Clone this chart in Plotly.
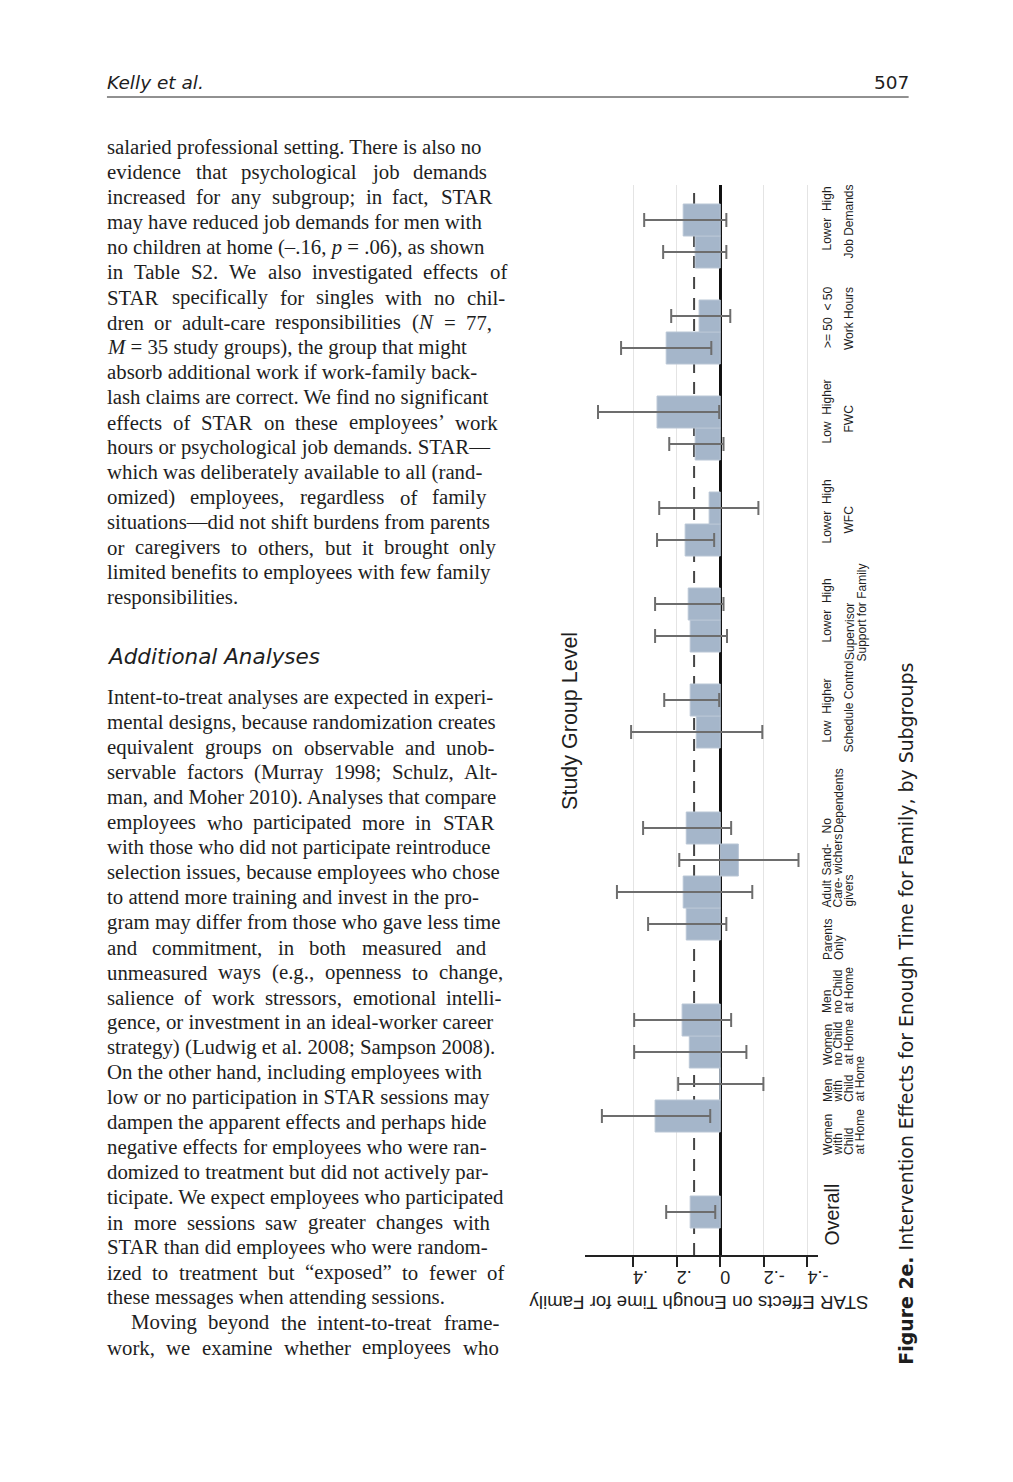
import re
import plotly.graph_objects as go

OFF = 8           # default body margin of the html page
W, H = 960, 1420  # figure kept smaller than the window so no scrollbars appear
XS, XB = 0.9875, 1.35  # measured horizontal mapping of the screenshot

# ---------------- chart data ----------------
categories = [
    "Overall",
    "Women with Child at Home", "Men with Child at Home",
    "Women no Child at Home", "Men no Child at Home",
    "Parents Only", "Adult Caregivers", "Sandwichers", "No Dependents",
    "Schedule Control Low", "Schedule Control Higher",
    "Supervisor Support Lower", "Supervisor Support High",
    "WFC Lower", "WFC High",
    "FWC Low", "FWC Higher",
    "Work Hours >= 50", "Work Hours < 50",
    "Job Demands Lower", "Job Demands High",
]
effects = [0.138, 0.299, 0.002, 0.142, 0.175, 0.156, 0.170, -0.083, 0.156,
           0.110, 0.138, 0.138, 0.147, 0.161, 0.051, 0.115, 0.290,
           0.248, 0.097, 0.115, 0.170]
ci_low = [0.023, 0.046, -0.198, -0.120, -0.050, -0.028, -0.147, -0.359, -0.050,
          -0.193, 0.005, -0.031, -0.015, 0.028, -0.175, -0.015, 0.005,
          0.041, -0.046, -0.028, -0.028]
ci_high = [0.248, 0.543, 0.193, 0.395, 0.395, 0.331, 0.474, 0.188, 0.354,
           0.409, 0.257, 0.299, 0.299, 0.290, 0.280, 0.234, 0.561,
           0.455, 0.225, 0.262, 0.349]
group_sizes = [1, 4, 4, 2, 2, 2, 2, 2, 2]
overall_reference = 0.12
value_ticks = [-0.4, -0.2, 0, 0.2, 0.4]
value_tick_labels = ["-.4", "-.2", "0", ".2", ".4"]

family_labels = [
    ["Women", "with", "Child", "at Home"],
    ["Men", "with", "Child", "at Home"],
    ["Women", "no Child", "at Home"],
    ["Men", "no Child", "at Home"],
    ["Parents", "Only"],
    ["Adult", "Care-", "givers"],
    ["Sand-", "wichers"],
    ["No", "Dependents"],
]
work_level_labels = ["Low  Higher", "Lower  High", "Lower  High", "Low  Higher", ">= 50  < 50", "Lower  High"]
work_group_labels = [["Schedule Control"], ["Supervisor", "Support for Family"], ["WFC"], ["FWC"],
                     ["Work Hours"], ["Job Demands"]]

# ---------------- page text ----------------
para1 = [
    "salaried professional setting. There is also no",
    "evidence that psychological job demands",
    "increased for any subgroup; in fact, STAR",
    "may have reduced job demands for men with",
    "no children at home (–.16, <i>p</i> = .06), as shown",
    "in Table S2. We also investigated effects of",
    "STAR specifically for singles with no chil-",
    "dren or adult-care responsibilities (<i>N</i> = 77,",
    "<i>M</i> = 35 study groups), the group that might",
    "absorb additional work if work-family back-",
    "lash claims are correct. We find no significant",
    "effects of STAR on these employees’ work",
    "hours or psychological job demands. STAR—",
    "which was deliberately available to all (rand-",
    "omized) employees, regardless of family",
    "situations—did not shift burdens from parents",
    "or caregivers to others, but it brought only",
    "limited benefits to employees with few family",
    "responsibilities.",
]
para2 = [
    "Intent-to-treat analyses are expected in experi-",
    "mental designs, because randomization creates",
    "equivalent groups on observable and unob-",
    "servable factors (Murray 1998; Schulz, Alt-",
    "man, and Moher 2010). Analyses that compare",
    "employees who participated more in STAR",
    "with those who did not participate reintroduce",
    "selection issues, because employees who chose",
    "to attend more training and invest in the pro-",
    "gram may differ from those who gave less time",
    "and commitment, in both measured and",
    "unmeasured ways (e.g., openness to change,",
    "salience of work stressors, emotional intelli-",
    "gence, or investment in an ideal-worker career",
    "strategy) (Ludwig et al. 2008; Sampson 2008).",
    "On the other hand, including employees with",
    "low or no participation in STAR sessions may",
    "dampen the apparent effects and perhaps hide",
    "negative effects for employees who were ran-",
    "domized to treatment but did not actively par-",
    "ticipate. We expect employees who participated",
    "in more sessions saw greater changes with",
    "STAR than did employees who were random-",
    "ized to treatment but “exposed” to fewer of",
    "these messages when attending sessions.",
    "Moving beyond the intent-to-treat frame-",
    "work, we examine whether employees who",
]

# ---------------- layout helpers ----------------
SERIF = "Liberation Serif, Times New Roman, serif"
SANS = "Liberation Sans, Arial, sans-serif"
DEJAVU = "DejaVu Sans, Verdana, sans-serif"
TEXT = "#1e1e1e"

def px(x):
    return ((x - XB) / XS - OFF) / W

def py(y):
    return 1 - (y - OFF) / H

annotations = []

def ann(text, x, y, size, family, xanchor="left", yanchor="middle", angle=0, color=TEXT):
    annotations.append(dict(text=text, x=px(x), y=py(y), xref="paper", yref="paper",
                            showarrow=False, xanchor=xanchor, yanchor=yanchor,
                            textangle=angle, borderpad=0, borderwidth=0,
                            font=dict(size=size, family=family, color=color)))

TW = {' ': 250, '!': 333, '(': 333, ')': 333, ',': 250, '-': 333, '.': 250, ':': 278, ';': 278,
      '=': 564, '>': 564, '<': 564, '0': 500, '1': 500, '2': 500, '3': 500, '4': 500, '5': 500,
      '6': 500, '7': 500, '8': 500, '9': 500, 'A': 722, 'B': 667, 'C': 667, 'D': 722, 'E': 611,
      'F': 556, 'G': 722, 'H': 722, 'I': 333, 'J': 389, 'K': 722, 'L': 611, 'M': 889, 'N': 722,
      'O': 722, 'P': 556, 'Q': 722, 'R': 667, 'S': 556, 'T': 611, 'U': 722, 'V': 722, 'W': 944,
      'X': 722, 'Y': 722, 'Z': 611, 'a': 444, 'b': 500, 'c': 444, 'd': 500, 'e': 444, 'f': 333,
      'g': 500, 'h': 500, 'i': 278, 'j': 278, 'k': 500, 'l': 278, 'm': 778, 'n': 500, 'o': 500,
      'p': 500, 'q': 500, 'r': 333, 's': 389, 't': 278, 'u': 500, 'v': 500, 'w': 722, 'x': 500,
      'y': 500, 'z': 444, '–': 500, '—': 1000, '’': 333, '“': 444, '”': 444}

def text_width(s, size):
    s = re.sub(r"<[^>]+>", "", s)
    return sum(TW.get(c, 500) for c in s) / 1000.0 * size

BODY_SIZE = 20.8
LEFT = 108
LINE_STEP = 25

def body_line(text, y, right=None, x0=LEFT):
    if right is None:
        ann(text, x0, y, BODY_SIZE, SERIF)
        return
    words = text.split(" ")
    widths = [text_width(w, BODY_SIZE) for w in words]
    gap = (right - x0 - sum(widths)) / (len(words) - 1)
    x = x0
    for i, (w, wd) in enumerate(zip(words, widths)):
        if i == len(words) - 1:
            ann(w, right, y, BODY_SIZE, SERIF, xanchor="right")
        else:
            ann(w, x, y, BODY_SIZE, SERIF)
        x += wd + gap

just1 = {1: 487, 2: 493, 5: 507, 6: 505, 7: 492, 11: 498, 14: 487, 16: 497}
just2 = {2: 495, 3: 498, 5: 495, 10: 487, 11: 503, 12: 502, 21: 491, 23: 504, 25: 499, 26: 499}

for i, t in enumerate(para1):
    body_line(t, 147 + LINE_STEP * i, just1.get(i))
for i, t in enumerate(para2):
    body_line(t, 697 + LINE_STEP * i, just2.get(i), x0=132 if i == 25 else LEFT)

ann("<i>Additional Analyses</i>", LEFT, 657, 21.5, DEJAVU)
ann("<i>Kelly et al.</i>", LEFT, 82, 18.5, DEJAVU)
ann("507", 908, 82, 18.5, DEJAVU, xanchor="right")
ann("<b>Figure 2e.</b> Intervention Effects for Enough Time for Family, by Subgroups",
    905, 1365, 18.9, DEJAVU, xanchor="center", yanchor="bottom", angle=-90)

# chart text
ann("Study Group Level", 570, 810, 21.5, SANS, xanchor="center", yanchor="bottom", angle=-90)
ann("STAR Effects on Enough Time for Family", 698, 1303, 18.7, SANS,
    xanchor="center", yanchor="middle", angle=180)
ann("Overall", 832, 1245, 19.5, SANS, xanchor="center", yanchor="bottom", angle=-90)

LAB = 12
line_x = [827, 838, 848, 859]
family_bottoms = [1155, 1102, 1065, 1013, 960, 907, 875, 833]
for lines, yb in zip(family_labels, family_bottoms):
    for j, t in enumerate(lines):
        ann(t, line_x[j], yb, LAB, SANS, xanchor="center", yanchor="bottom", angle=-90)

level_bottoms = [742, 642, 543, 443, 348, 250]
group_bottoms = [[753], [660, 662], [534], [433], [350], [259]]
group_x = [[848], [849, 861], [848], [848], [848], [848]]
for t, yb in zip(work_level_labels, level_bottoms):
    ann(t, 827, yb, LAB, SANS, xanchor="center", yanchor="bottom", angle=-90)
for lines, ybs, xs in zip(work_group_labels, group_bottoms, group_x):
    for t, yb, x in zip(lines, ybs, xs):
        ann(t, x, yb, LAB, SANS, xanchor="center", yanchor="bottom", angle=-90)

# ---------------- bar positions from group structure ----------------
group_gaps = [2, 2, 2, 1, 1, 1, 1, 1]
positions = []
slot = 0
for g, size in enumerate(group_sizes):
    for k in range(size):
        positions.append(slot)
        slot += 1
    if g < len(group_gaps):
        slot += group_gaps[g]

err_plus = [h - e for h, e in zip(ci_high, effects)]
err_minus = [e - l for e, l in zip(effects, ci_low)]

fig = go.Figure()
fig.add_trace(go.Bar(
    y=positions, x=effects, orientation="h", width=1.0,
    marker=dict(color="#a5b6ca", line=dict(color="#b9c6d5", width=1)),
    error_x=dict(type="data", symmetric=False, array=err_plus, arrayminus=err_minus,
                 color="#6d6d6d", thickness=2, width=7),
    hovertext=categories, showlegend=False,
))

plot_left, plot_right = 585, 818
plot_top, plot_bottom = 185, 1255
zero_px, unit_px = 720, 217.5
slot_px, overall_px = 32, 1212

fig.update_layout(
    width=W, height=H, margin=dict(l=0, r=0, t=0, b=0),
    paper_bgcolor="white", plot_bgcolor="white",
    xaxis=dict(
        domain=[px(plot_left), px(plot_right)],
        range=[(zero_px - plot_left) / unit_px, (zero_px - plot_right) / unit_px],
        tickvals=value_ticks, ticktext=value_tick_labels, tickangle=180,
        tickfont=dict(size=18, family=SANS, color="#222"),
        ticks="outside", ticklen=10, tickwidth=2, tickcolor="#222",
        showline=True, linecolor="#222", linewidth=2,
        showgrid=True, gridcolor="#e4e4e4", gridwidth=1,
        zeroline=True, zerolinecolor="#111", zerolinewidth=2.5,
        anchor="y",
    ),
    yaxis=dict(
        domain=[py(plot_bottom), py(plot_top)],
        range=[(overall_px - plot_bottom) / slot_px, (overall_px - plot_top) / slot_px],
        showticklabels=False, showgrid=False, zeroline=False, showline=False, ticks="",
    ),
    shapes=[
        dict(type="line", xref="paper", yref="paper", x0=px(108), x1=px(908),
             y0=py(97), y1=py(97), line=dict(color="#222", width=1)),
        dict(type="line", xref="x", yref="y domain", x0=overall_reference, x1=overall_reference,
             y0=0, y1=1, layer="below", line=dict(color="#444", width=2, dash="12px,9px")),
    ],
    annotations=annotations,
)

fig.write_html("out.html")
